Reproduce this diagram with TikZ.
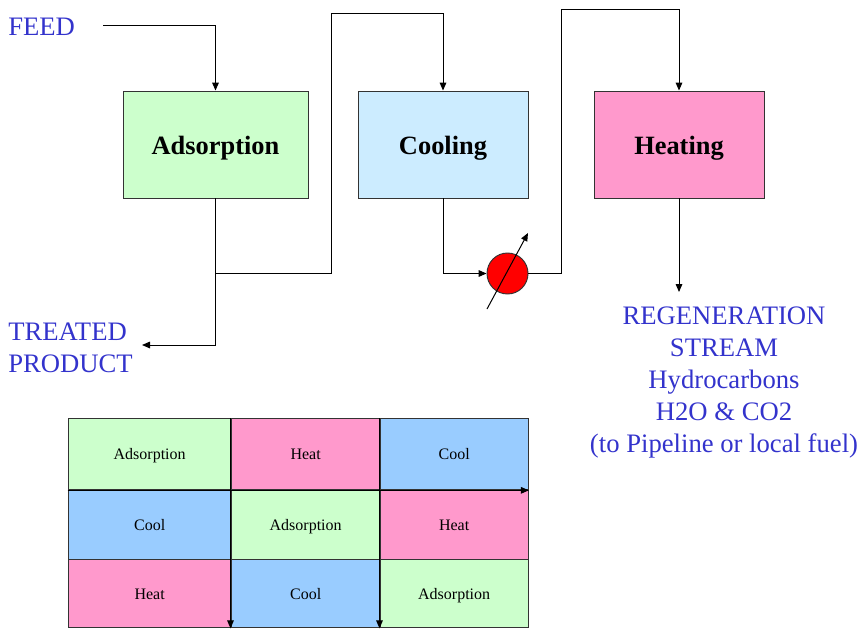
\documentclass[tikz,border=0pt]{standalone}
\usepackage{fontspec}
\setmainfont{Liberation Serif}
\usetikzlibrary{arrows.meta,calc}
\definecolor{adsgreen}{HTML}{CCFFCC}
\definecolor{coolblue}{HTML}{CCECFF}
\definecolor{gridblue}{HTML}{99CCFF}
\definecolor{heatpink}{HTML}{FF99CC}
\definecolor{labelblue}{HTML}{3333CC}
\definecolor{linegray}{HTML}{333333}
\tikzset{
  x=0.75pt,y=-0.75pt,
  unitbox/.style={draw=linegray,line width=0.7pt,minimum height=80.25pt,inner sep=0pt,text height=15pt,text depth=0pt,font=\fontsize{19.8}{22}\selectfont\bfseries},
  pipe/.style={draw=black,line width=0.75pt},
  flow/.style={pipe,-{Triangle[length=6pt,width=5pt]}},
  lbl/.style={text=labelblue,font=\fontsize{20}{24}\selectfont,inner sep=0pt},
  cell/.style={draw=linegray,line width=1pt,inner sep=0pt,text height=10.5pt,text depth=2.25pt,font=\fontsize{12}{13}\selectfont,anchor=north west},
}
\begin{document}
\begin{tikzpicture}
\useasboundingbox (0,0) rectangle (859,628);
% process units
\node[unitbox,fill=adsgreen,minimum width=138.75pt] (ads) at (215.5,144.5) {Adsorption};
\node[unitbox,fill=coolblue,minimum width=127.5pt] (cool) at (443,144.5) {Cooling};
\node[unitbox,fill=heatpink,minimum width=127.5pt] (heat) at (679,144.5) {Heating};
\node[circle,draw=linegray,fill=red,line width=0.7pt,minimum size=30.75pt,inner sep=0pt] (hx) at (507.5,273.5) {};
% labels
\node[lbl,anchor=west] (feed) at (8,27) {FEED};
\node[lbl,anchor=north west,align=left] (prod) at (8,323) {TREATED\\PRODUCT};
\node[lbl,anchor=north,align=center] (regen) at (724,307) {REGENERATION\\STREAM\\Hydrocarbons\\H2O \& CO2\\(to Pipeline or local fuel)};
% free ends
\coordinate (feedend) at (103,25);
\coordinate (prodend) at (142,345);
\coordinate (regenend) at (679,292);
\coordinate (hxa) at (487,309);
\coordinate (hxb) at (528,233);
\coordinate (branch) at (ads.south |- 0,273);
% connectors
\draw[flow] (feedend) -| (ads.north);
\draw[flow] (ads.south) |- (prodend);
\draw[flow] (branch) -- (331,273) -- (331,13) -| (cool.north);
\draw[flow] (cool.south) |- (hx.west);
\draw[flow] (hx.east) -- (561,273.5) -- (561,9) -| (heat.north);
\draw[flow] (heat.south) -- (regenend);
\draw[flow] (hxa) -- (hxb);
% table
\node[cell,fill=adsgreen,minimum width=122.25pt,minimum height=53.25pt] (c11) at (67.5,418) {Adsorption};
\node[cell,fill=heatpink,minimum width=111.75pt,minimum height=53.25pt] (c12) at (230.5,418) {Heat};
\node[cell,fill=gridblue,minimum width=111pt,minimum height=53.25pt] (c13) at (379.5,418) {Cool};
\node[cell,fill=gridblue,minimum width=122.25pt,minimum height=52.5pt] (c21) at (67.5,489) {Cool};
\node[cell,fill=adsgreen,minimum width=111.75pt,minimum height=52.5pt] (c22) at (230.5,489) {Adsorption};
\node[cell,fill=heatpink,minimum width=111pt,minimum height=52.5pt] (c23) at (379.5,489) {Heat};
\node[cell,fill=heatpink,minimum width=122.25pt,minimum height=51pt] (c31) at (67.5,559) {Heat};
\node[cell,fill=gridblue,minimum width=111.75pt,minimum height=51pt] (c32) at (230.5,559) {Cool};
\node[cell,fill=adsgreen,minimum width=111pt,minimum height=51pt] (c33) at (379.5,559) {Adsorption};
% table arrows
\draw[flow] (c11.south west) -- (c13.south east);
\draw[flow] (c12.north west) -- (c32.south west);
\draw[flow] (c13.north west) -- (c33.south west);
\end{tikzpicture}
\end{document}
